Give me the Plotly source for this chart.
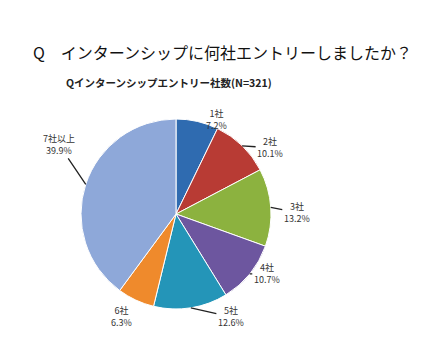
import math
import plotly.graph_objects as go

# Number of companies applied to for internships (N=321)
categories = ["1社", "2社", "3社", "4社", "5社", "6社", "7社以上"]
shares = [7.2, 10.1, 13.2, 10.7, 12.6, 6.3, 39.9]

colors = ["#2f6bb0", "#b83b34", "#8cb23f", "#6d569f", "#2495b8", "#ef8a2c", "#8ea8d9"]

W, H = 440, 347
CX, CY, R = 176, 214, 95  # pie centre and radius in pixels

# label text offsets (px) from the slice's outer edge, and whether a leader line is drawn
label_offsets = [(19, -2), (28, 2), (26, 5), (17, 0), (40, 9), (-14, 16), (-27, -40)]
leader = [False, True, True, True, True, False, True]

fig = go.Figure(
    go.Pie(
        labels=categories,
        values=shares,
        sort=False,
        direction="clockwise",
        rotation=0,
        marker=dict(colors=colors, line=dict(color="white", width=1)),
        textinfo="none",
        hoverinfo="label+percent",
        domain=dict(x=[(CX - R) / W, (CX + R) / W], y=[1 - (CY + R) / H, 1 - (CY - R) / H]),
        showlegend=False,
    )
)

total = sum(shares)
cum = 0.0
annotations = []
for cat, v, (dx, dy), line in zip(categories, shares, label_offsets, leader):
    theta = math.radians((cum + v / 2) / total * 360)
    cum += v
    ex = CX + R * math.sin(theta)
    ey = CY - R * math.cos(theta)
    text = f"{cat}<br>{v:.1f}%"
    font = dict(family="Noto Sans CJK JP", size=9, color="#333333")
    if line:
        annotations.append(dict(
            x=ex / W, y=1 - ey / H, xref="paper", yref="paper",
            xanchor="center", yanchor="middle",
            text=text, showarrow=True, ax=dx, ay=dy, arrowhead=0,
            arrowwidth=1.3, arrowcolor="#222222", standoff=0, font=font,
        ))
    else:
        annotations.append(dict(
            x=(ex + dx) / W, y=1 - (ey + dy) / H, xref="paper", yref="paper",
            xanchor="center", yanchor="middle",
            text=text, showarrow=False, font=font,
        ))

annotations.append(dict(
    x=222 / W, y=1 - 52 / H, xref="paper", yref="paper", showarrow=False,
    xanchor="center", yanchor="middle",
    text="Q　インターンシップに何社エントリーしましたか？",
    font=dict(family="Noto Sans CJK JP", size=16, color="#111111"),
))
annotations.append(dict(
    x=169 / W, y=1 - 82 / H, xref="paper", yref="paper", showarrow=False,
    xanchor="center", yanchor="middle",
    text="<b>Qインターンシップエントリー社数(N=321)</b>",
    font=dict(family="Noto Sans CJK JP", size=10.5, color="#222222"),
))

fig.update_layout(
    width=W, height=H, autosize=False,
    margin=dict(l=0, r=0, t=0, b=0),
    paper_bgcolor="white", plot_bgcolor="white",
    annotations=annotations,
)

fig.write_html("out.html")
